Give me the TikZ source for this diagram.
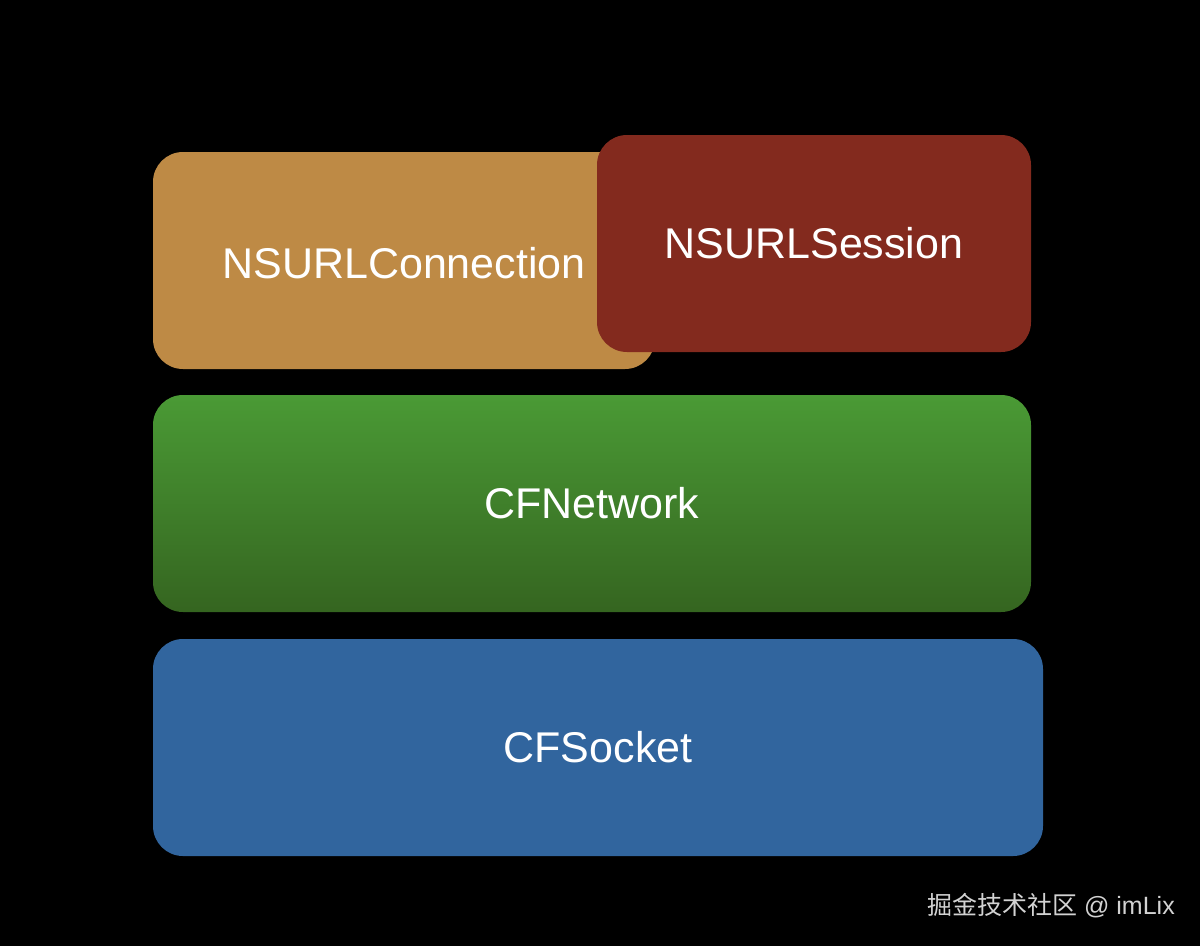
\documentclass[tikz,border=0pt]{standalone}
\usepackage{fontspec}
\setmainfont{Liberation Sans}
\newfontfamily\cjkfont{Noto Sans CJK SC}
\definecolor{bgblack}{HTML}{000000}
\definecolor{conncol}{HTML}{BE8A45}
\definecolor{sesscol}{HTML}{832A1E}
\definecolor{nettop}{HTML}{4A9A35}
\definecolor{netbot}{HTML}{356520}
\definecolor{sockcol}{HTML}{31659E}
\definecolor{wmcol}{HTML}{D2D2D2}
\begin{document}
\begin{tikzpicture}[x=1pt,y=-1pt,
  layerbox/.style={rounded corners=30pt, inner sep=0pt, text=white,
    font=\fontsize{43}{50}\selectfont},
]
\fill[bgblack] (0,0) rectangle (1200,946);
\useasboundingbox (0,0) rectangle (1200,946);
\node[layerbox, fill=conncol, minimum width=502pt, minimum height=217pt]
  (conn) at (404,260.5) {};
\node[text=white, font=\fontsize{43}{50}\selectfont] (conntext) at (404,263) {NSURLConnection};
\node[layerbox, fill=sesscol, minimum width=434pt, minimum height=217pt]
  (sess) at (814,243.5) {NSURLSession};
\node[layerbox, top color=nettop, bottom color=netbot, minimum width=878pt, minimum height=217pt]
  (net) at (592,503.5) {CFNetwork};
\node[layerbox, fill=sockcol, minimum width=890pt, minimum height=217pt]
  (sock) at (598,747.5) {CFSocket};
\node[text=wmcol, font=\fontsize{25}{30}\selectfont, anchor=east, inner sep=0pt]
  (wm) at (1175,906) {{\cjkfont 掘金技术社区} @ imLix};
\end{tikzpicture}
\end{document}
